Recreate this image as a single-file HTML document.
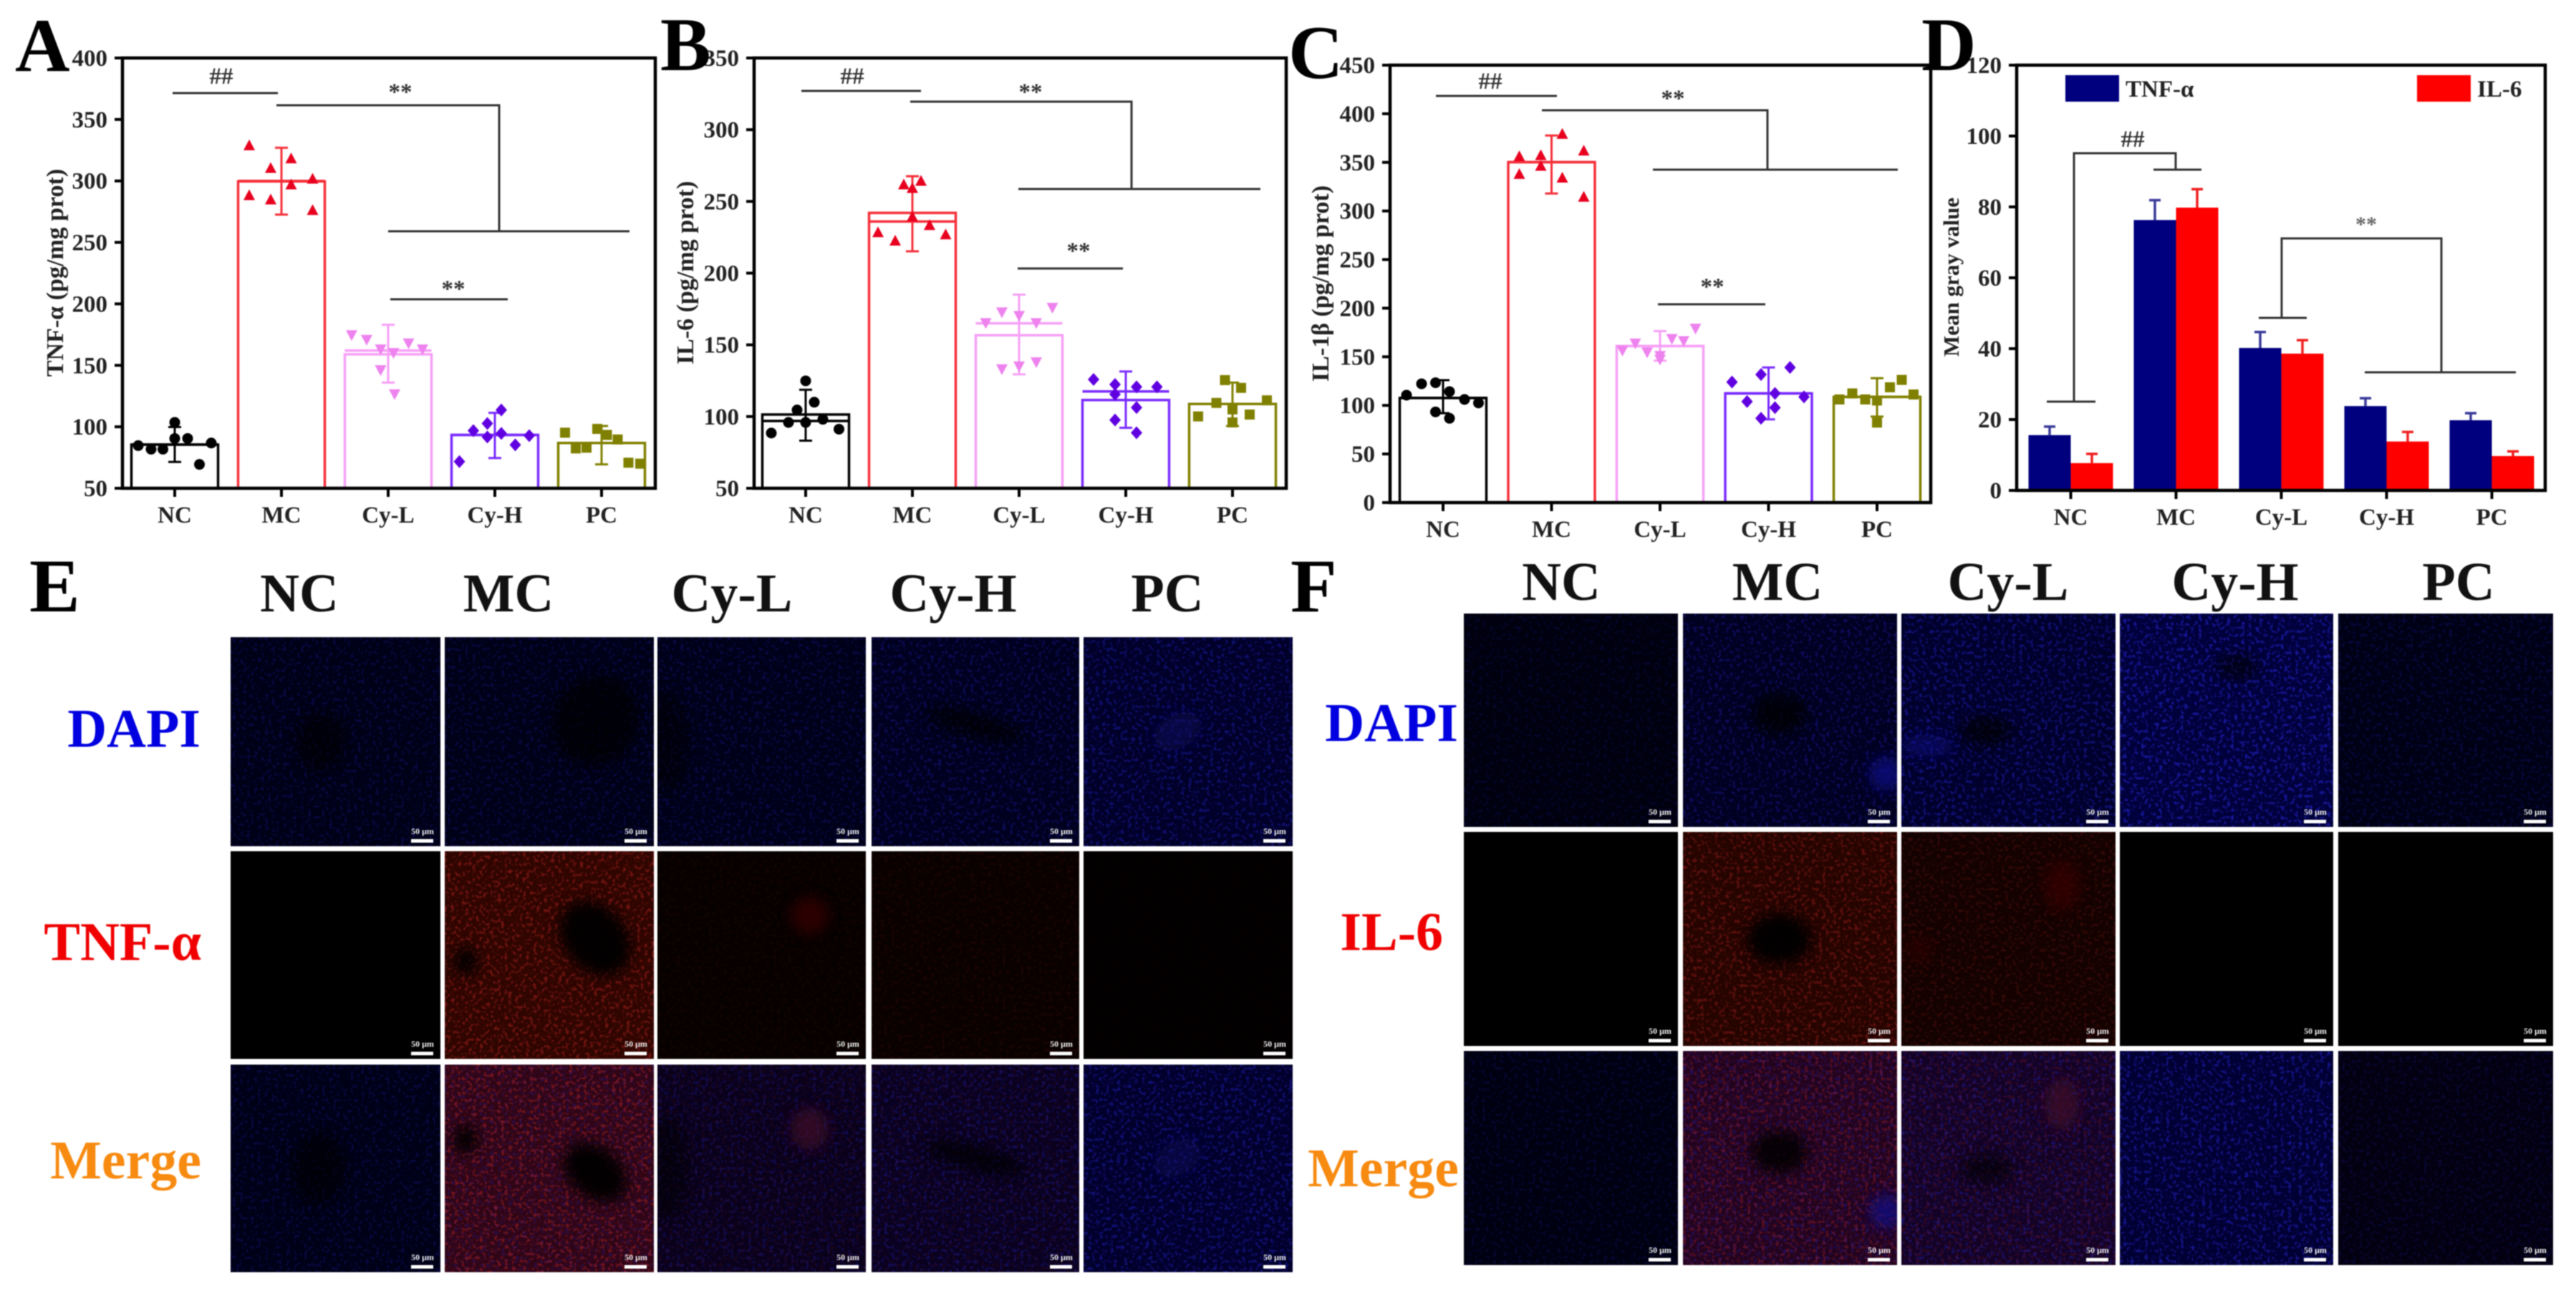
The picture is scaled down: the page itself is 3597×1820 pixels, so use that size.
<!DOCTYPE html>
<html lang="en">
<head>
<meta charset="utf-8">
<title>Cytokine levels and immunofluorescence panels</title>
<style>
html,body{margin:0;padding:0;background:#fff;width:3597px;height:1820px;overflow:hidden}
#fig{position:absolute;left:0;top:0;filter:blur(.9px)}
text{font-family:"Liberation Serif","DejaVu Serif",serif;font-weight:bold}
.anno{stroke:#333;stroke-width:3;fill:none}
.sig{fill:#333;font-size:33px;text-anchor:middle}
.letter{fill:#000;font-size:106px}
.head{fill:#111;font-size:76px;text-anchor:middle}
.row{font-size:76px;text-anchor:end}
</style>
</head>
<body>
<svg id="fig" xmlns="http://www.w3.org/2000/svg" width="3597" height="1820" viewBox="0 0 3597 1820">
  <defs id="defs"></defs>
  <rect x="0" y="0" width="3597" height="1820" fill="#fff"/>
  <g id="charts"></g>
  <g id="micro"></g>

  <g>
    <text class="letter" x="21" y="99">A</text>
    <text class="letter" x="922" y="98">B</text>
    <text class="letter" x="1799" y="109">C</text>
    <text class="letter" x="2683" y="98">D</text>
    <text class="letter" x="41" y="854">E</text>
    <text class="letter" x="1802" y="854">F</text>
  </g>

  <g>
    <path class="anno" d="M241 130H388"/>
    <text class="sig" x="309" y="117">##</text>
    <path class="anno" d="M386 147H697V323M542 323H879"/>
    <text class="sig" x="559" y="139">**</text>
    <path class="anno" d="M545 418H709"/>
    <text class="sig" x="633" y="414">**</text>
  </g>
  <g>
    <path class="anno" d="M1119 127H1286"/>
    <text class="sig" x="1190" y="117">##</text>
    <path class="anno" d="M1271 142H1580V264M1422 264H1760"/>
    <text class="sig" x="1439" y="139">**</text>
    <path class="anno" d="M1421 375H1568"/>
    <text class="sig" x="1506" y="361">**</text>
  </g>
  <g>
    <path class="anno" d="M2005 134H2174"/>
    <text class="sig" x="2081" y="124">##</text>
    <path class="anno" d="M2153 154H2468V237M2308 237H2650"/>
    <text class="sig" x="2336" y="148">**</text>
    <path class="anno" d="M2315 425H2465"/>
    <text class="sig" x="2391" y="411">**</text>
  </g>
  <g>
    <path class="anno" d="M2858 561H2926M2896 561V214H3038V237M3007 237H3074"/>
    <text class="sig" x="2978" y="205">##</text>
    <path class="anno" d="M3154 444H3221M3186 444V333H3409V520M3302 520H3513"/>
    <text class="sig" x="3304" y="323" style="font-size:30px;fill:#666">**</text>
    <rect x="2884" y="105" width="75" height="37" fill="#00007f"/>
    <text x="2968" y="135" font-size="33" fill="#222">TNF-α</text>
    <rect x="3375" y="105" width="75" height="37" fill="#f00"/>
    <text x="3459" y="135" font-size="33" fill="#222">IL-6</text>
  </g>

  <g>
    <text class="head" x="418" y="854">NC</text>
    <text class="head" x="710" y="854">MC</text>
    <text class="head" x="1022" y="854">Cy-L</text>
    <text class="head" x="1331" y="854">Cy-H</text>
    <text class="head" x="1630" y="854">PC</text>
    <text class="row" x="280" y="1043" fill="#0000e0">DAPI</text>
    <text class="row" x="281" y="1341" fill="#f00000">TNF-α</text>
    <text class="row" x="281" y="1646" fill="#f78a10">Merge</text>
  </g>
  <g>
    <text class="head" x="2180" y="838">NC</text>
    <text class="head" x="2482" y="838">MC</text>
    <text class="head" x="2804" y="838">Cy-L</text>
    <text class="head" x="3121" y="838">Cy-H</text>
    <text class="head" x="3433" y="838">PC</text>
    <text class="row" x="2036" y="1035" fill="#0000e0">DAPI</text>
    <text class="row" x="2015" y="1327" fill="#f00000">IL-6</text>
    <text class="row" x="2037" y="1657" fill="#f78a10">Merge</text>
  </g>
</svg>
<script>
const categories = ['NC','MC','Cy-L','Cy-H','PC'];

const panelATicks = [50,100,150,200,250,300,350,400];
const panelABars = [85.5,299.6,159,93.4,86.8];
const panelAMeans = [85.5,300,162,93.4,86.8];
const panelAErrHigh = [99.8,327,183,111.4,100.7];
const panelAErrLow = [71.4,272.6,136,74.6,69.4];
const panelAValues = [
  [84.7,81.8,81.8,103.6,90.5,90.5,69.4,86.8],
  [329,318.4,310.6,301.9,297.2,288.5,285,276.4],
  [174.5,170.7,162.9,160,167.8,162.9,146,126.4],
  [71.7,96.9,102.7,91.7,113.7,94.6,85.3,92.8],
  [95.2,82.4,83,98.3,93.4,89.7,70.8,70]
];
const panelALanes = [
  [-3.4,-2.2,-1.1,0,0,1.2,2.3,3.4],
  [-3,0.9,-1,2.9,0.9,-3,-1,2.9],
  [-3.4,-2,-0.7,0.5,1.9,3.2,-0.7,0.6],
  [-3.3,-2,-0.7,-0.7,0.6,0.6,1.9,3.2],
  [-3.4,-2.4,-1.4,-0.4,0.5,1.5,2.5,3.6]
];

const panelBTicks = [50,100,150,200,250,300,350];
const panelBBars = [101.4,242,156.7,111.5,108.8];
const panelBMeans = [96.9,236,165,117.5,108.8];
const panelBErrHigh = [118.7,267.6,185,131.4,123.7];
const panelBErrLow = [83.2,215.2,129.4,92.2,93.4];
const panelBValues = [
  [88.5,95.9,104.6,124.9,95.9,110,98.1,91.2],
  [261.9,259.4,264.4,239.5,233.6,228.6,222.7,227.1],
  [165.1,172.6,170.1,165.1,175.8,132.9,134.9,137.8],
  [125.9,122.4,120.7,120.7,115.5,106.3,97.6,88.7],
  [100.1,109.5,125.4,120,105,101.4,111.3,95.9]
];
const panelBLanes = [
  [-3.2,-1.6,-0.8,0,0,0.8,1.6,3.1],
  [-0.8,0,0.8,0,1.6,-3.2,-1.6,3.1],
  [-3.1,-1.6,0,1.6,3.1,-1.6,0,1.6],
  [-3,-1,1,2.9,-1,1,-1,1],
  [-3.2,-1.5,-0.7,0.8,0,1.6,3.2,0]
];

const panelCTicks = [0,50,100,150,200,250,300,350,400,450];
const panelCBars = [107.6,350.2,161,112.3,108.7];
const panelCMeans = [107.6,350.2,161,112.3,108.7];
const panelCErrHigh = [125.9,377.6,176.4,139,128];
const panelCErrLow = [92,318,146,85.6,88.5];
const panelCValues = [
  [110.5,122.2,123.3,93.3,114.2,86.7,106.1,102.5],
  [356.4,357.5,379.4,362.2,346.5,338.1,334.4,314.7],
  [156.2,163.6,154.4,150.8,147,168.3,166.1,178.9],
  [124,103.9,131.7,86.7,112.3,97.7,139,108.7],
  [106.1,112.3,106.1,105,82.3,118.6,126.2,111.2]
];
const panelCLanes = [
  [-3.4,-2,-0.7,-0.7,0.6,0.6,2,3.3],
  [-3,-1,1,3,-1,-3,1,3],
  [-3.5,-2.3,-1.2,0,0,1.1,2.2,3.3],
  [-3.4,-2,-0.7,-0.7,0.6,0.6,2,3.3],
  [-3.5,-2.3,-1.1,0,0,1.2,2.3,3.4]
];

const panelDTicks = [0,20,40,60,80,100,120];
const tnfValues = [15.6,76.3,40.2,23.8,19.8];
const tnfErrHigh = [18,81.9,44.7,26,21.8];
const il6Values = [7.7,79.8,38.6,13.8,9.7];
const il6ErrHigh = [10.3,85,42.4,16.5,11];

const seriesColors = ['#000000','#f5303a','#f7a0f7','#7a2cff','#808000'];
const markerColors = ['#000000','#e8001e','#ee82ee','#6000e0','#808000'];
const markerKinds = ['circle','up','down','diamond','square'];

const NS = 'http://www.w3.org/2000/svg';
const charts = document.getElementById('charts');
const micro = document.getElementById('micro');
const defs = document.getElementById('defs');

function make(tag, attrs, parent, txt){
  const e = document.createElementNS(NS, tag);
  for(const k in attrs){ e.setAttribute(k, attrs[k]); }
  if(txt !== undefined){ e.textContent = txt; }
  parent.appendChild(e);
  return e;
}
function linear(d0,d1,r0,r1){ return function(v){ return r0 + (v-d0)*(r1-r0)/(d1-d0); }; }

function drawAxes(key, g, f, ticks, y, x, title, titleSize){
  const frame = make('rect',{x:f.left,y:f.top,width:f.right-f.left,height:f.bottom-f.top,fill:'none',stroke:'#000','stroke-width':4.5},g);
  
  
  ticks.forEach(function(t){
    const py = y(t);
    const tk = make('line',{x1:f.left-11,x2:f.left,y1:py,y2:py,stroke:'#000','stroke-width':4},g);
    
    
    const lb = make('text',{x:f.left-21,y:py+11,'font-size':33,'text-anchor':'end',fill:'#222'},g,String(t));
    
    
  });
  categories.forEach(function(c,i){
    const px = x(i);
    const tk = make('line',{x1:px,x2:px,y1:f.bottom,y2:f.bottom+12,stroke:'#000','stroke-width':4},g);
    
    
    const lb = make('text',{x:px,y:f.bottom+48,'font-size':33,'text-anchor':'middle',fill:'#222'},g,c);
    
    
  });
  const tt = make('text',{x:0,y:0,'font-size':titleSize,'text-anchor':'middle',fill:'#222',transform:'translate('+f.titleX+','+f.titleY+') rotate(-90)'},g,title);
  
  
}

function drawMarker(kind, px, py, color, g){
  const r = 8;
  let m;
  if(kind === 'circle'){
    m = make('circle',{cx:px,cy:py,r:r-0.5,fill:color},g);
  } else if(kind === 'square'){
    m = make('rect',{x:px-r+1,y:py-r+1,width:2*r-2,height:2*r-2,fill:color},g);
  } else if(kind === 'up'){
    m = make('polygon',{points:[px,py-r,px+r,py+r-1,px-r,py+r-1].join(' '),fill:color},g);
  } else if(kind === 'down'){
    m = make('polygon',{points:[px-r,py-r+1,px+r,py-r+1,px,py+r].join(' '),fill:color},g);
  } else {
    m = make('polygon',{points:[px,py-r-1,px+r,py,px,py+r+1,px-r,py].join(' '),fill:color},g);
  }
  return m;
}

function drawDotPanel(key, f, ticks, bars, means, errHigh, errLow, values, lanes, title){
  const g = make('g',{},charts);
  
  
  const y = linear(ticks[0], ticks[ticks.length-1], f.bottom, f.top);
  const x = function(i){ return f.x0 + i*f.step; };
  categories.forEach(function(c,i){
    const col = seriesColors[i];
    const px = x(i);
    const w = 121;
    const b = make('path',{d:'M'+(px-w/2)+' '+f.bottom+'V'+y(bars[i])+'H'+(px+w/2)+'V'+f.bottom,fill:'#fff',stroke:col,'stroke-width':3.5},g);
    
    
    const ml = make('line',{x1:px-w/2,x2:px+w/2,y1:y(means[i]),y2:y(means[i]),stroke:col,'stroke-width':3.5},g);
    
    
    const er = make('path',{d:'M'+px+' '+y(errLow[i])+'V'+y(errHigh[i])+'M'+(px-9)+' '+y(errHigh[i])+'H'+(px+9)+'M'+(px-9)+' '+y(errLow[i])+'H'+(px+9),fill:'none',stroke:col,'stroke-width':3},g);
    
    
    values[i].forEach(function(v,j){
      const m = drawMarker(markerKinds[i], px + lanes[i][j]*15, y(v), markerColors[i], g);
      
      
    });
  });
  drawAxes(key, g, f, ticks, y, x, title, 34);
}

drawDotPanel('panel-a',{left:171,right:915,top:81,bottom:682,x0:244,step:149,titleX:88,titleY:381},panelATicks,panelABars,panelAMeans,panelAErrHigh,panelAErrLow,panelAValues,panelALanes,'TNF-α (pg/mg prot)');
drawDotPanel('panel-b',{left:1053,right:1796,top:81,bottom:682,x0:1125,step:149,titleX:968,titleY:381},panelBTicks,panelBBars,panelBMeans,panelBErrHigh,panelBErrLow,panelBValues,panelBLanes,'IL-6 (pg/mg prot)');
drawDotPanel('panel-c',{left:1941,right:2696,top:91,bottom:702,x0:2015,step:151.5,titleX:1855,titleY:396},panelCTicks,panelCBars,panelCMeans,panelCErrHigh,panelCErrLow,panelCValues,panelCLanes,'IL-1β (pg/mg prot)');

(function(){
  const key = 'panel-d';
  const f = {left:2816,right:3554,top:91,bottom:685,x0:2891.5,step:147,titleX:2735,titleY:387};
  const g = make('g',{},charts);
  
  
  const y = linear(0,120,f.bottom,f.top);
  const x = function(i){ return f.x0 + i*f.step; };
  const bw = 59;
  categories.forEach(function(c,i){
    const px = x(i);
    const e1 = make('path',{d:'M'+(px-bw/2)+' '+y(tnfValues[i])+'V'+y(tnfErrHigh[i])+'M'+(px-bw/2-8)+' '+y(tnfErrHigh[i])+'H'+(px-bw/2+8),stroke:'#3a3a9a','stroke-width':3.5,fill:'none'},g);
    
    
    const e2 = make('path',{d:'M'+(px+bw/2)+' '+y(il6Values[i])+'V'+y(il6ErrHigh[i])+'M'+(px+bw/2-8)+' '+y(il6ErrHigh[i])+'H'+(px+bw/2+8),stroke:'#f02020','stroke-width':3.5,fill:'none'},g);
    
    
    const b1 = make('rect',{x:px-bw,y:y(tnfValues[i]),width:bw,height:f.bottom-y(tnfValues[i]),fill:'#00007f'},g);
    
    
    const b2 = make('rect',{x:px,y:y(il6Values[i]),width:bw,height:f.bottom-y(il6Values[i]),fill:'#f00'},g);
    
    
  });
  drawAxes(key, g, f, panelDTicks, y, x, 'Mean gray value', 31);
})();

/* ---------- fluorescence micrographs ---------- */
function speckle(id, seed, r, g, b){
  const fl = make('filter',{id:id,x:0,y:0,width:'100%',height:'100%'},defs);
  make('feTurbulence',{type:'fractalNoise',baseFrequency:'0.2',numOctaves:2,seed:seed},fl);
  make('feColorMatrix',{type:'matrix',values:'0 0 0 0 '+r+' 0 0 0 0 '+g+' 0 0 0 0 '+b+' 5 0 0 0 -2.6'},fl);
}
const soft = make('filter',{id:'soft',x:'-50%',y:'-50%',width:'200%',height:'200%'},defs);
make('feGaussianBlur',{stdDeviation:9},soft);

const eColsX = [[322,615],[621,913],[918,1209],[1217,1507],[1513,1805]];
const eRowsY = [[890,1182],[1189,1479],[1487,1777]];
const fColsX = [[2044,2343],[2350,2649],[2655,2954],[2960,3258],[3265,3565]];
const fRowsY = [[857,1155],[1162,1461],[1468,1767]];
const eBlue = [[.3,.3,.33,.42,.55],[0,0,0,0,0],[.3,.3,.36,.42,.6]];
const eRed  = [[0,0,0,0,0],[0,.75,.1,.14,.03],[0,.75,.14,.14,.02]];
const fBlue = [[.2,.45,.6,.8,.28],[0,0,0,0,0],[.22,.42,.5,.7,.22]];
const fRed  = [[0,0,0,0,0],[0,.6,.3,.01,.02],[0,.55,.3,.02,.03]];
/* feature: row, col, cx, cy, rx, ry, rotation, colour, opacity */
const eFeatures = [
  [0,0,.43,.5,.12,.14,0,'#000',.6],[0,1,.72,.4,.2,.22,30,'#000',.7],[0,2,.05,.5,.1,.25,0,'#000',.5],
  [0,3,.5,.42,.25,.06,15,'#000',.7],[1,1,.72,.42,.15,.2,-40,'#000',.95],[1,1,.1,.53,.06,.07,0,'#000',.9],
  [1,2,.73,.31,.09,.09,0,'#3a0606',.7],[2,0,.42,.5,.13,.17,0,'#000',.6],[2,1,.72,.52,.17,.12,40,'#000',.95],
  [2,1,.1,.36,.06,.07,0,'#000',.9],[2,2,.73,.31,.09,.1,0,'#401028',.7],[2,2,.05,.5,.1,.25,0,'#000',.5],
  [2,3,.5,.45,.25,.06,15,'#000',.7],[0,4,.45,.45,.12,.08,-30,'#0c0c58',.6],[2,4,.45,.45,.12,.08,-30,'#0c0c58',.5]
];
const fFeatures = [
  [0,1,.45,.47,.13,.1,0,'#000',.75],[0,1,.95,.75,.08,.08,0,'#10108a',.7],[0,2,.4,.55,.12,.07,0,'#000',.7],
  [1,1,.45,.5,.15,.12,0,'#000',.95],[1,2,.75,.25,.08,.12,0,'#380606',.7],[1,2,.08,.55,.06,.06,0,'#300404',.6],
  [2,1,.45,.47,.13,.1,0,'#000',.85],[2,1,.95,.75,.08,.08,0,'#10108a',.7],[2,2,.75,.25,.08,.12,0,'#401028',.7],
  [2,2,.4,.55,.12,.07,0,'#000',.6],[0,3,.55,.25,.1,.06,0,'#000',.6],[0,2,.12,.62,.12,.05,0,'#10108a',.5]
];

let seedCounter = 3;
function drawMicro(key, xs, ys, blue, red, feats, rowNames){
  ys.forEach(function(ry,r){
    xs.forEach(function(cx,c){
      const x0 = cx[0], y0 = ry[0], w = cx[1]-cx[0], h = ry[1]-ry[0];
      const b = blue[r][c], rd = red[r][c];
      const clipId = key + '-clip-' + r + '-' + c;
      const cp = make('clipPath',{id:clipId},defs);
      make('rect',{x:x0,y:y0,width:w,height:h},cp);
      const g = make('g',{'clip-path':'url(#'+clipId+')'},micro);
      
      
      const baseFill = 'rgb(' + Math.round(rd*62) + ',' + Math.round(rd*6) + ',' + Math.round(b*72) + ')';
      const base = make('rect',{x:x0,y:y0,width:w,height:h,fill:baseFill},g);
      
      
      if(b > 0){
        seedCounter++;
        speckle('sb'+seedCounter, seedCounter, 0.02, 0.02, 0.7);
        const n = make('rect',{x:x0,y:y0,width:w,height:h,filter:'url(#sb'+seedCounter+')',opacity:Math.min(1,b*.7)},g);
        
        
      }
      if(rd > 0.02){
        seedCounter++;
        speckle('sr'+seedCounter, seedCounter, 0.55, 0.02, 0.02);
        const n = make('rect',{x:x0,y:y0,width:w,height:h,filter:'url(#sr'+seedCounter+')',opacity:Math.min(1,rd*.6)},g);
        
        
      }
      feats.forEach(function(ft){
        if(ft[0] === r && ft[1] === c){
          const px = x0 + ft[2]*w, py = y0 + ft[3]*h;
          const el = make('ellipse',{cx:px,cy:py,rx:ft[4]*w,ry:ft[5]*h,fill:ft[7],opacity:ft[8],filter:'url(#soft)',transform:'rotate('+ft[6]+' '+px+' '+py+')'},g);
          
          
        }
      });
      const bar = make('rect',{x:x0+w-41,y:y0+h-10,width:31,height:5,fill:'#fff'},g);
      
      
      const sl = make('text',{x:x0+w-25,y:y0+h-17,'font-size':12,'text-anchor':'middle',fill:'#eee'},g,'50 μm');
      
      
    });
  });
}
drawMicro('panel-e', eColsX, eRowsY, eBlue, eRed, eFeatures, ['dapi','tnf','merge']);
drawMicro('panel-f', fColsX, fRowsY, fBlue, fRed, fFeatures, ['dapi','il6','merge']);
</script>
</body>
</html>
